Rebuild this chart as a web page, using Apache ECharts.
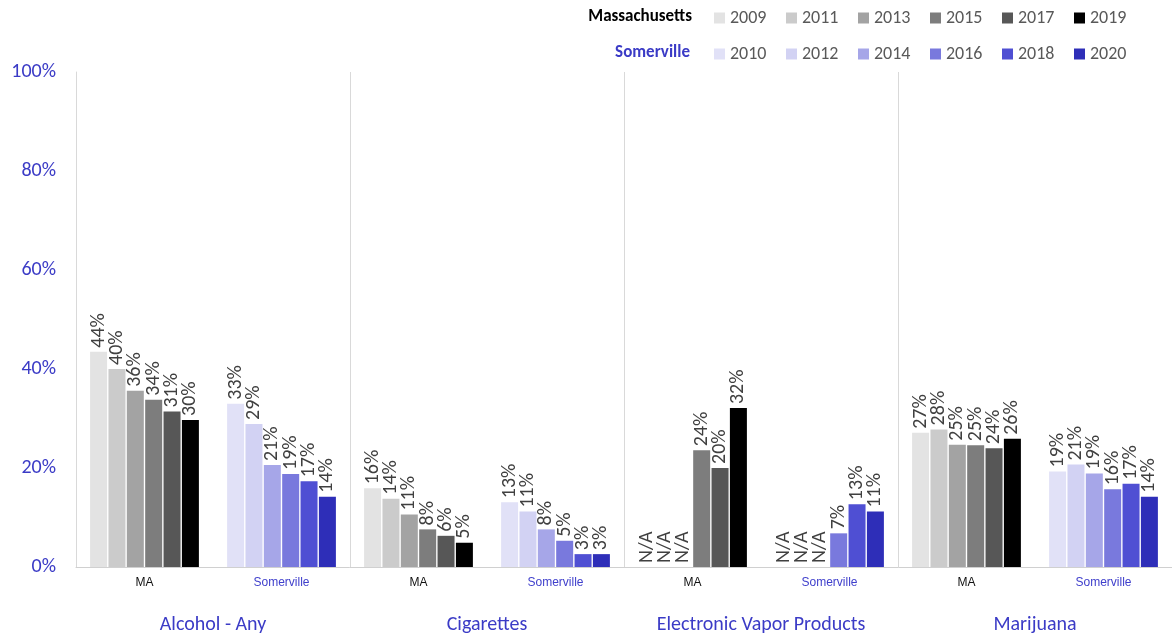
<!DOCTYPE html>
<html>
<head>
<meta charset="utf-8">
<script src="https://cdn.jsdelivr.net/npm/echarts@6/dist/echarts.min.js"></script>
<style>
html,body{margin:0;padding:0;background:#fff;}
#chart{width:1172px;height:635px;}
</style>
</head>
<body>
<div id="chart"></div>
<script>
// ---- Data ----
const groups = ['Alcohol - Any', 'Cigarettes', 'Electronic Vapor Products', 'Marijuana'];
const subLabels = ['MA', 'Somerville'];
const maYears = ['2009', '2011', '2013', '2015', '2017', '2019'];
const svYears = ['2010', '2012', '2014', '2016', '2018', '2020'];
// values per group: [Alcohol, Cigarettes, Vapor, Marijuana]; null = N/A
const ma2009 = [43.5, 15.9, null, 27.1];
const ma2011 = [40.0, 13.8, null, 27.8];
const ma2013 = [35.6, 10.6, null, 24.7];
const ma2015 = [33.8, 7.6, 23.6, 24.6];
const ma2017 = [31.4, 6.3, 20.0, 24.0];
const ma2019 = [29.7, 4.9, 32.1, 25.9];
const sv2010 = [33.0, 13.1, null, 19.3];
const sv2012 = [28.9, 11.2, null, 20.7];
const sv2014 = [20.6, 7.6, null, 18.9];
const sv2016 = [18.8, 5.3, 6.8, 15.7];
const sv2018 = [17.3, 2.6, 12.7, 16.8];
const sv2020 = [14.2, 2.6, 11.2, 14.2];
const yTicks = [0, 20, 40, 60, 80, 100];

const maValues = [ma2009, ma2011, ma2013, ma2015, ma2017, ma2019];
const svValues = [sv2010, sv2012, sv2014, sv2016, sv2018, sv2020];
const maColors = ['#e3e3e3', '#cbcbcb', '#a3a3a3', '#7d7d7d', '#575757', '#000000'];
const svColors = ['#e1e1f7', '#d2d2f3', '#a6a6e8', '#7979dd', '#4f4fd3', '#2e2eb8'];

const blue = '#3b3bc6';
const font = 'Carlito, Lato, sans-serif';

// x categories: MA / Somerville for each group
const xCats = [];
groups.forEach(() => subLabels.forEach(s => xCats.push(s)));

function build(vals, isMA) {
  const out = [];
  vals.forEach(v => {
    const cell = (v === null) ? 0 : v;
    if (isMA) { out.push(cell); out.push('-'); }
    else { out.push('-'); out.push(cell); }
  });
  return out;
}

const labelCfg = (vals) => ({
  show: true,
  position: 'top',
  rotate: 90,
  align: 'left',
  verticalAlign: 'middle',
  distance: 4,
  color: '#404040',
  fontFamily: font,
  fontSize: 20,
  formatter: p => {
    const gi = Math.floor(p.dataIndex / 2);
    return vals[gi] === null ? 'N/A' : Math.round(p.value) + '%';
  }
});

const series = [];
maYears.forEach((y, i) => {
  series.push({
    name: y, type: 'bar', stack: 'p' + i, xAxisIndex: 0,
    barWidth: 17, barGap: '8%',
    itemStyle: { color: maColors[i] },
    label: labelCfg(maValues[i]),
    data: build(maValues[i], true)
  });
});
svYears.forEach((y, i) => {
  series.push({
    name: y, type: 'bar', stack: 'p' + i, xAxisIndex: 0,
    barWidth: 17, barGap: '8%',
    itemStyle: { color: svColors[i] },
    label: labelCfg(svValues[i]),
    data: build(svValues[i], false)
  });
});

const legendText = { fontFamily: font, fontSize: 18, lineHeight: 20, color: '#595959', width: 40, padding: [0, 0, 0, 0] };

const chart = echarts.init(document.getElementById('chart'));
chart.setOption({
  animation: false,
  backgroundColor: '#fff',
  grid: { left: 76, right: 0, top: 72, bottom: 68, containLabel: false },
  legend: [
    {
      data: maYears, left: 714, top: 8, itemWidth: 11, itemHeight: 11, itemGap: 16,
      icon: 'rect', selectedMode: false, padding: 0, textStyle: legendText
    },
    {
      data: svYears, left: 714, top: 44, itemWidth: 11, itemHeight: 11, itemGap: 16,
      icon: 'rect', selectedMode: false, padding: 0, textStyle: legendText
    }
  ],
  graphic: [
    { type: 'text', right: 1172 - 692, top: 8, style: { text: 'Massachusetts', font: 'bold 17px ' + font, fill: '#000' } },
    { type: 'text', right: 1172 - 690, top: 44, style: { text: 'Somerville', font: 'bold 17px ' + font, fill: blue } }
  ],
  xAxis: [
    {
      type: 'category', data: xCats, position: 'bottom',
      axisLine: { show: true, lineStyle: { color: '#d0d0d0', width: 1 } },
      axisTick: { show: false },
      axisLabel: {
        margin: 10, fontFamily: 'Liberation Sans, Arial, sans-serif', fontSize: 12,
        interval: 0,
        color: (v) => v === 'MA' ? '#111' : '#4040cc'
      },
      splitLine: { show: false }
    },
    {
      type: 'category', data: groups, position: 'bottom', gridIndex: 0,
      axisLine: { show: false }, axisTick: { show: false },
      axisLabel: { margin: 48, interval: 0, fontFamily: font, fontSize: 20, color: blue },
      splitLine: { show: true, interval: 0, lineStyle: { color: '#d9d9d9', width: 1 } }
    }
  ],
  yAxis: {
    type: 'value', min: 0, max: 100, interval: 20,
    axisLine: { show: true, lineStyle: { color: '#d9d9d9' } },
    axisTick: { show: false },
    splitLine: { show: false },
    axisLabel: {
      margin: 20, fontFamily: font, fontSize: 20, color: blue,
      formatter: v => yTicks.includes(v) ? v + '%' : ''
    }
  },
  series: series
});
</script>
</body>
</html>
